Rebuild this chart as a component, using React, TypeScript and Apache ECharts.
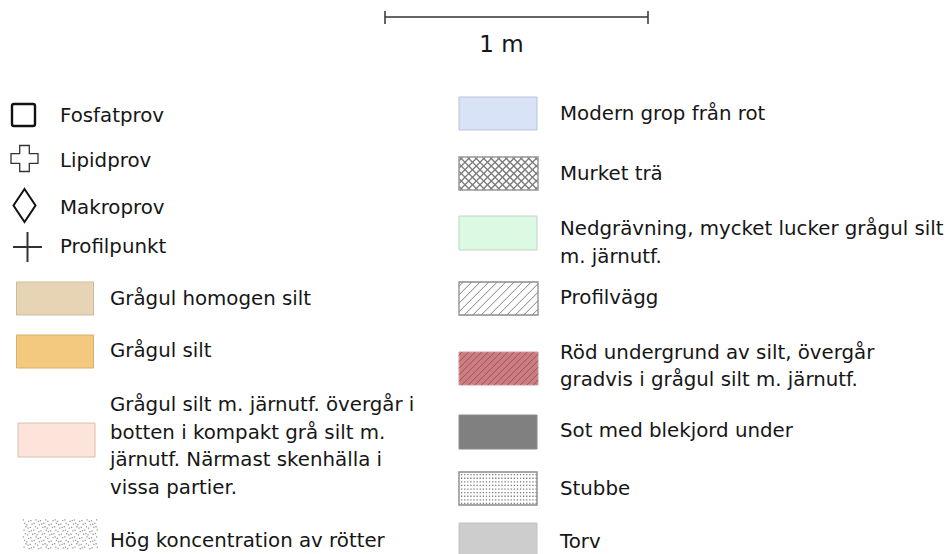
import React, { useEffect, useRef } from "react";
import * as echarts from "echarts";

// ---- content ----
const scaleLabel = "1 m";
const symbolLabels = ["Fosfatprov", "Lipidprov", "Makroprov", "Profilpunkt"];
const leftLayerLabels = [
  "Grågul homogen silt",
  "Grågul silt",
  "Grågul silt m. järnutf. övergår i\nbotten i kompakt grå silt m.\njärnutf. Närmast skenhälla i\nvissa partier.",
  "Hög koncentration av rötter",
];
const rightLayerLabels = [
  "Modern grop från rot",
  "Murket trä",
  "Nedgrävning, mycket lucker grågul silt\nm. järnutf.",
  "Profilvägg",
  "Röd undergrund av silt, övergår\ngradvis i grågul silt m. järnutf.",
  "Sot med blekjord under",
  "Stubbe",
  "Torv",
];

// ---- layout / style (kept separate from content) ----
const FONT = '"DejaVu Sans", Verdana, sans-serif';
const FS = 19.8;
const LH = 27.5;
const TXT = "#161616";

const symbolTextY = [115.5, 160, 207, 246.5];
const leftSwatchY = [282, 335, 423, 518];
const leftTextY = [298.5, 350.5, 404.5, 540.5];
const rightSwatchY = [97, 157, 216, 282, 352, 415, 472, 523];
const rightTextY = [113.5, 173, 228.5, 297, 352, 430, 488.5, 541];

function diagLines(x0: number, y0: number, w: number, h: number, step: number, dir: number, style: any) {
  const out: any[] = [];
  const x1 = x0 + w, y1 = y0 + h;
  if (dir === 1) {
    for (let c = x0 + y0 + step / 2; c < x1 + y1; c += step) {
      const xs = Math.max(x0, c - y1), xe = Math.min(x1, c - y0);
      if (xe > xs) out.push({ type: "line", silent: true, shape: { x1: xs, y1: c - xs, x2: xe, y2: c - xe }, style });
    }
  } else {
    for (let c = x0 - y1 + step / 2; c < x1 - y0; c += step) {
      const xs = Math.max(x0, c + y0), xe = Math.min(x1, c + y1);
      if (xe > xs) out.push({ type: "line", silent: true, shape: { x1: xs, y1: xs - c, x2: xe, y2: xe - c }, style });
    }
  }
  return out;
}

function dotGrid(x0: number, y0: number, w: number, h: number, sx: number, sy: number, color: string, jitter: boolean) {
  const out: any[] = [];
  let r = 0;
  for (let y = y0 + 2; y < y0 + h - 1; y += sy, r++) {
    let c = 0;
    for (let x = x0 + 2; x < x0 + w - 1; x += sx, c++) {
      let dx = 0, dy = 0;
      if (jitter) {
        dx = ((r * 7 + c * 3) % 5) * 0.6 - 1.2;
        dy = ((r * 3 + c * 5) % 3) * 0.7 - 0.7;
      }
      out.push({ type: "rect", silent: true, shape: { x: x + dx, y: y + dy, width: 1.3, height: 1.3 }, style: { fill: color } });
    }
  }
  return out;
}

function text(x: number, y: number, t: string, extra: any = {}) {
  return {
    type: "text",
    x,
    y,
    style: {
      text: t,
      fontFamily: FONT,
      fontSize: FS,
      fill: TXT,
      verticalAlign: "middle",
      align: "left",
      ...extra,
    },
  };
}

function multiText(x: number, yFirst: number, t: string) {
  return t.split("\n").map((line, i) => text(x, yFirst + i * LH, line));
}

function plainRect(x: number, y: number, w: number, h: number, fill: string, stroke: string, lw = 1) {
  return { type: "rect", shape: { x, y, width: w, height: h }, style: { fill, stroke, lineWidth: lw } };
}

export default function App() {
  const ref = useRef<HTMLDivElement>(null);
  useEffect(() => {
    if (!ref.current) return;
    const chart = echarts.init(ref.current, null, { renderer: "svg" });
    const els: any[] = [];

    // scale bar
    els.push({ type: "line", shape: { x1: 385, y1: 17, x2: 648, y2: 17 }, style: { stroke: "#333", lineWidth: 1.5 } });
    els.push({ type: "line", shape: { x1: 385, y1: 11, x2: 385, y2: 24 }, style: { stroke: "#333", lineWidth: 1.5 } });
    els.push({ type: "line", shape: { x1: 648, y1: 11, x2: 648, y2: 24 }, style: { stroke: "#333", lineWidth: 1.5 } });
    els.push(text(501.5, 44, scaleLabel, { fontSize: 23, align: "center" }));

    // symbols
    els.push({ type: "rect", shape: { x: 12, y: 104, width: 23, height: 22, r: 2 }, style: { fill: "none", stroke: "#111", lineWidth: 2.4 } });
    const cx = 24.5, cy = 158.5;
    const a = 4.8, b = 13.5, bh = 13;
    els.push({
      type: "polygon",
      shape: {
        points: [
          [cx - a, cy - bh], [cx + a, cy - bh], [cx + a, cy - a], [cx + b, cy - a], [cx + b, cy + a],
          [cx + a, cy + a], [cx + a, cy + bh], [cx - a, cy + bh], [cx - a, cy + a], [cx - b, cy + a],
          [cx - b, cy - a], [cx - a, cy - a],
        ],
      },
      style: { fill: "none", stroke: "#333", lineWidth: 1.3 },
    });
    els.push({
      type: "polygon",
      shape: { points: [[24.5, 189], [35.5, 205.5], [24.5, 222], [13.5, 205.5]] },
      style: { fill: "none", stroke: "#111", lineWidth: 2 },
    });
    els.push({ type: "line", shape: { x1: 13, y1: 247, x2: 42, y2: 247 }, style: { stroke: "#333", lineWidth: 2 } });
    els.push({ type: "line", shape: { x1: 27.5, y1: 232, x2: 27.5, y2: 262 }, style: { stroke: "#333", lineWidth: 2 } });
    symbolLabels.forEach((l, i) => els.push(text(60, symbolTextY[i], l)));

    // left layer swatches
    const LX = 16.5, LW = 77, SH = 33;
    els.push(plainRect(LX, leftSwatchY[0], LW, SH, "#e6d4b4", "#cdbb9c"));
    els.push(plainRect(LX, leftSwatchY[1], LW, SH, "#f2c97f", "#d8b06b"));
    els.push(plainRect(LX + 1.5, leftSwatchY[2], LW, SH + 1, "#fce4da", "#d9bcb0"));
    els.push(...dotGrid(22, leftSwatchY[3], 75, 31, 3.4, 3.4, "#9a9a9a", true));
    leftLayerLabels.forEach((l, i) => els.push(...multiText(110, leftTextY[i], l)));

    // right layer swatches
    const RX = 459, RW = 78;
    els.push(plainRect(RX, rightSwatchY[0], RW, SH, "#d9e3f8", "#b9c3d6"));
    // murket trä
    els.push(plainRect(RX, rightSwatchY[1], RW + 1, SH, "#ffffff", "none"));
    els.push(...diagLines(RX, rightSwatchY[1], RW + 1, SH, 7.5, 1, { stroke: "#7a7a7a", lineWidth: 1.3 }));
    els.push(...diagLines(RX, rightSwatchY[1], RW + 1, SH, 7.5, -1, { stroke: "#7a7a7a", lineWidth: 1.3 }));
    els.push(plainRect(RX, rightSwatchY[1], RW + 1, SH, "none", "#999", 1.5));
    // nedgrävning
    els.push(plainRect(RX, rightSwatchY[2], RW, SH + 1, "#dcf9e3", "#bcd7c2"));
    // profilvägg
    els.push(...diagLines(RX, rightSwatchY[3], RW + 1, SH, 8.5, 1, { stroke: "#808080", lineWidth: 1 }));
    els.push(plainRect(RX, rightSwatchY[3], RW + 1, SH, "none", "#8c8c8c", 1.3));
    // röd
    els.push(plainRect(RX, rightSwatchY[4], RW + 1, SH, "#cc7d82", "#d29a9c"));
    els.push(...diagLines(RX, rightSwatchY[4], RW + 1, SH, 6.5, 1, { stroke: "#9b5257", lineWidth: 1 }));
    // sot
    els.push(plainRect(RX, rightSwatchY[5], RW, SH + 1, "#808080", "#8a8a8a"));
    // stubbe
    els.push(plainRect(RX, rightSwatchY[6], RW, SH, "#ffffff", "none"));
    els.push(...dotGrid(RX, rightSwatchY[6], RW, SH, 3.1, 3.6, "#7c7c7c", false));
    els.push(plainRect(RX, rightSwatchY[6], RW, SH, "none", "#8a8a8a", 1.4));
    // torv
    els.push(plainRect(RX, rightSwatchY[7], RW, SH + 2, "#cdcdcd", "#c2c2c2"));
    rightLayerLabels.forEach((l, i) => els.push(...multiText(560, rightTextY[i], l)));

    chart.setOption({
      animation: false,
      backgroundColor: "#ffffff",
      graphic: { elements: els },
    });
    return () => chart.dispose();
  }, []);
  return <div ref={ref} style={{ position: "fixed", left: 0, top: 0, width: 946, height: 554 }} />;
}
